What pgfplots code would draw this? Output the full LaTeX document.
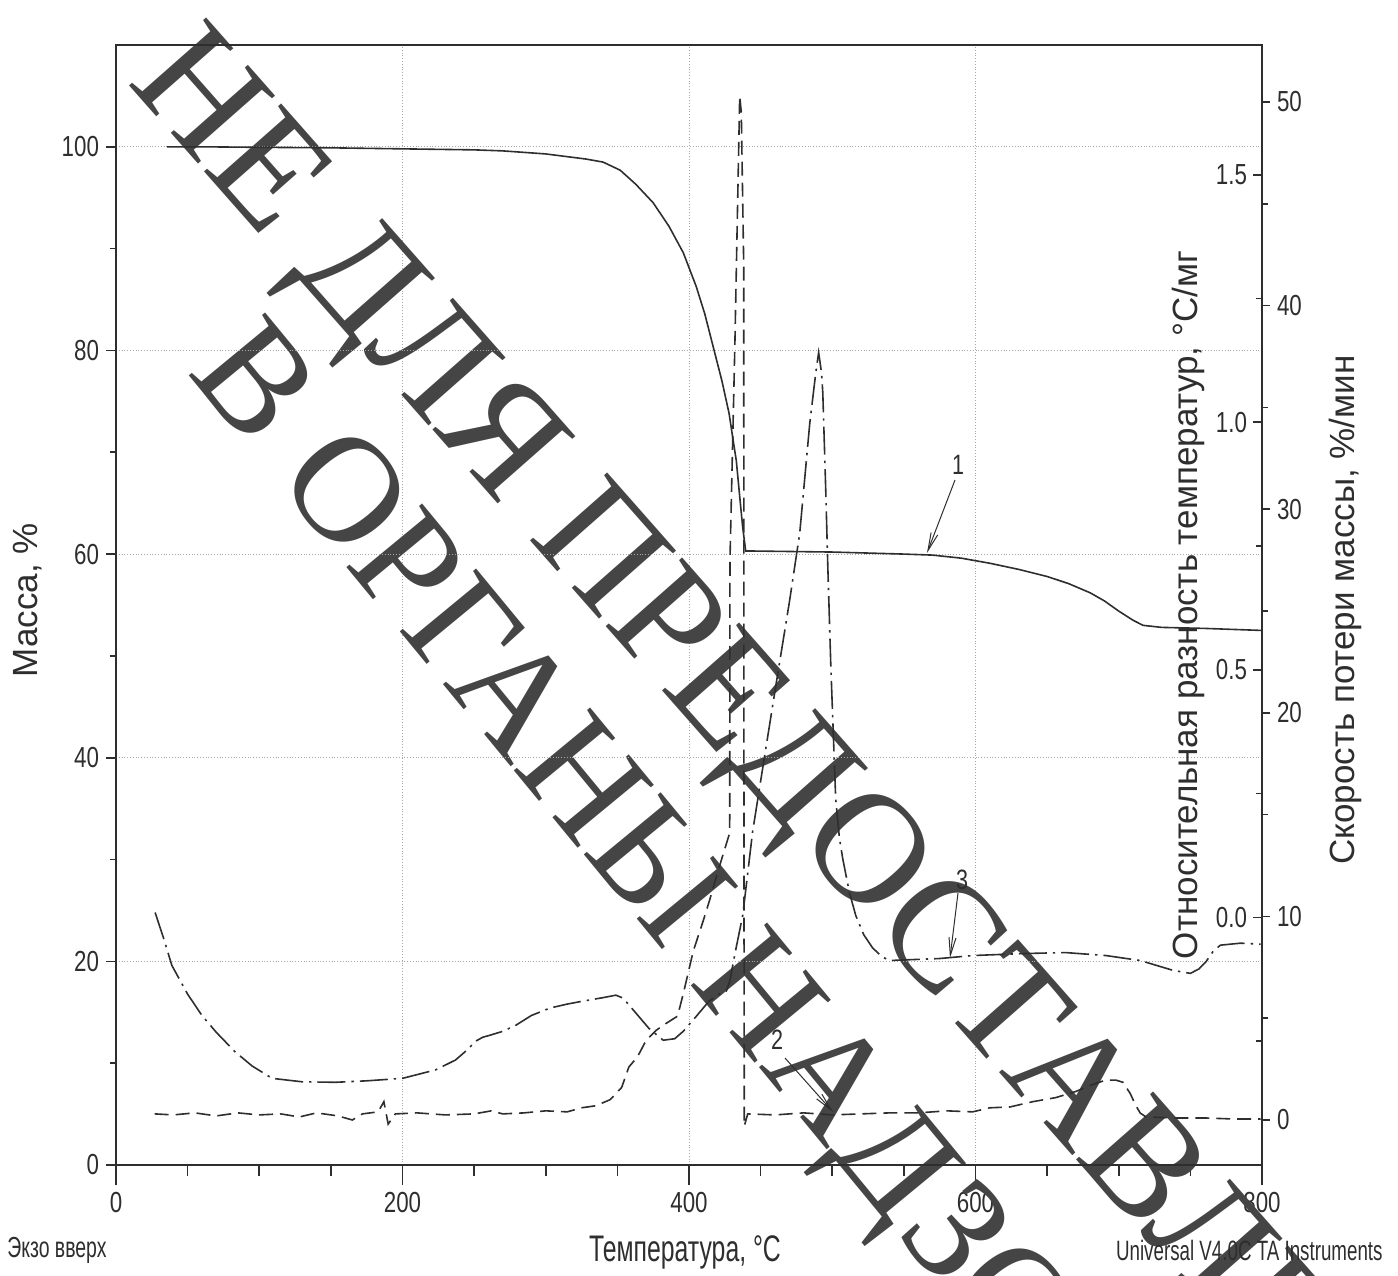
\documentclass[border=0pt]{standalone}
\usepackage{fontspec}
\setmainfont{Liberation Sans}
\newfontfamily\nar{Liberation Sans}[FakeStretch=0.77]
\newfontfamily\narr{Liberation Sans}[FakeStretch=0.67]
\newfontfamily\wm{Liberation Serif}
\usepackage{pgfplots}
\pgfplotsset{compat=1.18}
\usetikzlibrary{arrows.meta}
\definecolor{ink}{HTML}{2E2E2E}
\definecolor{wmc}{HTML}{454545}
\definecolor{gridc}{HTML}{A8A8A8}

\pgfplotstableread{
T m
35.6 100.0
60 100.0
100 99.95
150 99.9
200 99.8
250 99.7
270 99.6
300 99.3
328 98.8
340 98.5
352 97.7
363 96.3
375 94.5
386 92.2
396 89.6
405 86.3
411 83.6
417 80.3
423 77.0
428 73.8
431 71.0
433 69.2
435.5 65.5
437.5 62.6
439.6 60.3
445 60.3
500 60.2
550 60.0
570 59.9
590 59.6
610 59.1
630 58.5
650 57.8
665 57.1
680 56.2
690 55.4
700 54.4
710 53.5
717 53.0
730 52.8
760 52.7
800 52.5
}\mass

\pgfplotstableread{
T d
27.3 0.01
33 -0.04
39 -0.097
50 -0.155
60 -0.198
70 -0.232
83 -0.271
95 -0.300
109 -0.325
130 -0.332
153 -0.333
175 -0.330
200 -0.325
223 -0.308
237 -0.288
245 -0.268
251 -0.250
256 -0.242
261 -0.238
270 -0.230
279 -0.218
290 -0.198
303 -0.183
315 -0.175
326 -0.169
340 -0.162
349 -0.157
354 -0.163
362 -0.190
372 -0.224
382 -0.248
390 -0.245
396 -0.230
405 -0.200
414 -0.169
421 -0.155
426 -0.149
428.4 -0.129
433 -0.06
437.5 0.004
444.4 0.173
453.5 0.339
460.5 0.466
470.3 0.641
477.3 0.776
484.3 0.998
488.5 1.10
490.5 1.141
492.5 1.10
493.4 1.060
495.5 0.859
496.9 0.709
499 0.508
502.4 0.240
505 0.16
507.3 0.119
512 0.05
516.4 0.004
522 -0.035
528.3 -0.062
535 -0.080
540.2 -0.087
575 -0.083
598 -0.077
633 -0.073
663 -0.071
691 -0.077
715 -0.087
738 -0.107
750 -0.113
756 -0.104
761 -0.089
766 -0.068
771 -0.056
785 -0.052
799 -0.054
}\dta

\pgfplotstableread{
T r
27 0.3
40 0.25
55 0.35
70 0.2
85 0.35
100 0.25
115 0.3
128 0.15
140 0.35
155 0.2
165 0.0
172 0.3
183 0.4
187 0.9
190 -0.2
195 0.3
210 0.35
230 0.25
250 0.3
262 0.45
270 0.3
285 0.35
300 0.45
315 0.4
325 0.6
335 0.7
345 1.0
353 1.6
358 2.6
364 3.1
370 3.9
377 4.4
383 4.7
392 5.1
396 6.2
403 8.3
410 9.8
414.4 10.8
421 12.4
428.4 14.1
428.6 27.5
432 38
435.4 50.3
436.5 49.5
438.2 42
438.4 10
438.6 -0.3
441 0.3
460 0.25
480 0.35
500 0.25
520 0.3
540 0.35
560 0.35
580 0.45
598 0.4
610 0.6
624 0.64
640 0.9
656 1.1
670 1.4
680 1.7
691 1.96
698 1.96
703 1.85
708 1.3
712 0.7
715 0.34
719 0.15
740 0.1
760 0.1
780 0.05
799 0.05
}\dtg

\pgfplotsset{
  base/.style={scale only axis, width=573pt, height=560pt, xmin=0, xmax=800,
    axis line style={ink, line width=0.8pt},
    tick style={ink, line width=0.8pt},
    tick label style={text=ink, font=\nar\fontsize{14.5}{15}\selectfont},
    /pgf/number format/assume math mode=true},
}

\begin{document}
\begin{tikzpicture}
% x axis, x grid, watermark
\begin{axis}[base, name=main, ymin=0, ymax=110,
  axis x line*=bottom, axis y line=none,
  xtick={0,200,...,800}, minor xtick={50,100,...,750},
  xmajorgrids, grid style={densely dotted, gridc, line width=0.5pt},
  tick align=outside, major tick length=10pt, minor tick length=5.5pt,
  clip=false]
  \addplot[draw=none] coordinates {(0,0) (800,110)};
  \node[overlay, rotate=-48.6, anchor=base, inner sep=0, text=wmc,
    font=\wm\fontsize{78.5}{80}\selectfont] at (rel axis cs:0.6047,0.2750) {НЕ ДЛЯ ПРЕДОСТАВЛЕНИЯ};
  \node[overlay, rotate=-50.5, anchor=base, inner sep=0, text=wmc,
    font=\wm\fontsize{75.5}{80}\selectfont] at (rel axis cs:0.4703,0.2000) {В ОРГАНЫ НАДЗОРА};
\end{axis}
% mass
\begin{axis}[base, ymin=0, ymax=110,
  axis lines=box, xtick=\empty, ytick pos=left,
  ytick={0,20,...,100}, minor ytick={10,30,...,90},
  ymajorgrids, grid style={densely dotted, gridc, line width=0.5pt},
  tick align=outside, major tick length=5pt, minor tick length=3pt]
  \addplot[ink, line width=0.8pt] table[x=T, y=m] {\mass};
\end{axis}
% DTA
\begin{axis}[base, ymin=-0.5, ymax=1.762,
  axis x line=none, axis y line*=right,
  ytick={0,0.5,1,1.5}, minor ytick={-0.25,0.25,0.75,1.25},
  yticklabel style={anchor=east, xshift=-4pt, /pgf/number format/.cd, fixed, fixed zerofill, precision=1},
  tick align=inside, major tick length=4.5pt, minor tick length=3pt]
  \addplot[ink, line width=0.8pt, dash pattern=on 14pt off 3pt on 1.2pt off 3pt] table[x=T, y=d] {\dta};
\end{axis}
% DTG
\begin{axis}[base, ymin=-2.21, ymax=52.8,
  axis x line=none, axis y line*=right,
  ytick={0,10,...,50}, minor ytick={5,15,...,45},
  tick align=outside, major tick length=4pt, minor tick length=3pt]
  \addplot[ink, line width=0.8pt, dash pattern=on 7pt off 3.5pt] table[x=T, y=r] {\dtg};
\end{axis}
\begin{scope}[shift={(main.south west)}, x=0.5pt, y=0.5pt, text=ink]
  \path (-116,-109) rectangle (1282,1165);
  \node[rotate=90, font=\fontsize{17.5}{18}\selectfont] at (-88,565) {Масса, \%};
  \node[rotate=90, font=\fontsize{17.5}{18}\selectfont] at (1072,560) {Относительная разность температур, °C/мг};
  \node[rotate=90, font=\fontsize{17.5}{18}\selectfont] at (1229,555) {Скорость потери массы, \%/мин};
  \node[font=\narr\fontsize{18.5}{19}\selectfont] at (569,-87) {Температура, °C};
  \node[anchor=west, inner sep=0, font=\narr\fontsize{14.5}{15}\selectfont] at (-109,-85) {Экзо вверх};
  \node[anchor=east, inner sep=0, font=\narr\fontsize{14}{15}\selectfont] at (1267,-85) {Universal V4.0C TA Instruments};
  \node[font=\nar\fontsize{14}{15}\selectfont] at (842,700) {1};
  \node[font=\nar\fontsize{14}{15}\selectfont] at (661,125) {2};
  \node[font=\nar\fontsize{14}{15}\selectfont] at (846,285) {3};
  \draw[ink, line width=0.5pt, -{Straight Barb[length=9pt, width=3.5pt]}] (839,685) -- (811,612);
  \draw[ink, line width=0.5pt, -{Straight Barb[length=9pt, width=3.5pt]}] (669,107) -- (717,53);
  \draw[ink, line width=0.5pt, -{Straight Barb[length=9pt, width=3.5pt]}] (842,272) -- (834,207);
\end{scope}
\end{tikzpicture}
\end{document}
